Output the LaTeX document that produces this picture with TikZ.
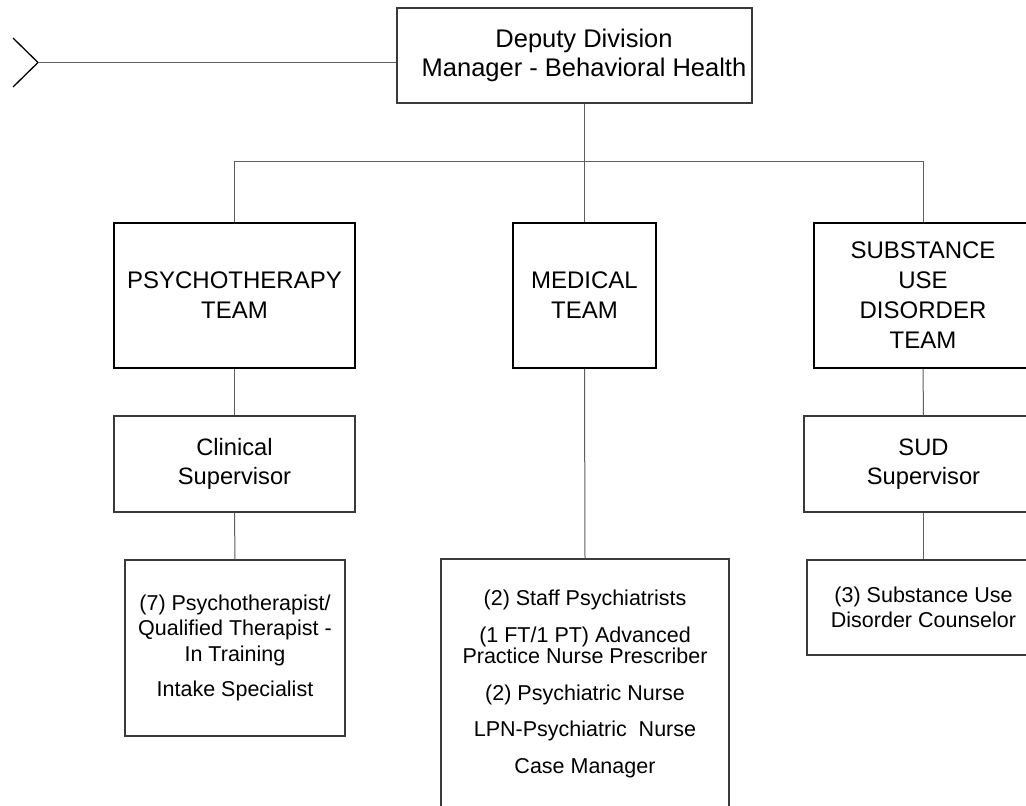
\documentclass[tikz,border=0pt]{standalone}
\usepackage{fontspec}
\setmainfont{Liberation Sans}
\definecolor{conn}{HTML}{5E5E5E}
\definecolor{edge}{HTML}{3A3A3A}
\begin{document}
\begin{tikzpicture}[x=1pt,y=-1pt,
  box/.style={draw=edge, line width=1.3pt, inner sep=0pt, align=center, fill=white},
  teambox/.style={draw=black, line width=2pt, inner sep=0pt, align=center, fill=white,
     minimum height=145pt, font=\fontsize{24}{30}\selectfont},
  supbox/.style={box, minimum height=96pt, font=\fontsize{23.7}{28.5}\selectfont},
  staffbox/.style={box, font=\fontsize{21.5}{25.5}\selectfont},
  link/.style={draw=conn, line width=1pt}]
\clip (0,0) rectangle (1026,806);
\fill[white] (0,0) rectangle (1026,806);

% top box
\node[box, minimum width=355pt, minimum height=95pt,
  label={[xshift=9.5pt, align=center, font=\fontsize{25.5}{29}\selectfont]center:{Deputy Division\\Manager - Behavioral Health}}]
  (top) at (574.5,55.5) {};

% chevron and incoming line
\coordinate (tip) at (38,62.5);
\draw[black, line width=1.3pt] (tip) ++(-25,-24.5) -- (tip) -- ++(-25,24.5);
\draw[link] (tip) -- (tip -| top.west);

% teams
\node[teambox, minimum width=241pt] (psy) at (234.5,295.5) {PSYCHOTHERAPY\\TEAM};
\node[teambox, minimum width=143pt] (med) at (584.5,295.5) {MEDICAL\\TEAM};
\node[teambox, minimum width=218pt] (sud) at (923,295.5) {SUBSTANCE\\USE\\DISORDER\\TEAM};

% supervisors
\node[supbox, minimum width=241pt] (clin) at (234.5,464) {Clinical\\Supervisor};
\node[supbox, minimum width=239pt] (sudsup) at (923.5,464) {SUD\\Supervisor};

% staff
\node[staffbox, minimum width=220pt, minimum height=176pt] (psybox) at (235,648)
  {(7) Psychotherapist/\\Qualified Therapist -\\In Training\\[10pt]Intake Specialist};
\node[staffbox, minimum width=288pt, minimum height=250pt, font=\fontsize{21.5}{21.5}\selectfont] (medbox) at (585,684)
  {(2) Staff Psychiatrists\\[15pt](1 FT/1 PT) Advanced\\Practice Nurse Prescriber\\[15pt](2) Psychiatric Nurse\\[15pt]LPN-Psychiatric\ \ Nurse\\[15pt]Case Manager};
\node[staffbox, minimum width=233pt, minimum height=95pt, font=\fontsize{21.5}{25}\selectfont] (sudcoun) at (923.5,607.5)
  {(3) Substance Use\\Disorder Counselor};

% connectors
\coordinate (bus) at (0,161);
\draw[link] (top.south -| med.north) -- (med.north);
\draw[link] (psy.north) -- (psy.north |- bus) -- (sud.north |- bus) -- (sud.north);
\draw[link] (psy.south) -- (clin.north);
\draw[link] (clin.south) -- (psybox.north);
\draw[link] (med.south) -- (medbox.north);
\draw[link] (sud.south) -- (sudsup.north);
\draw[link] (sudsup.south) -- (sudcoun.north);
\end{tikzpicture}
\end{document}
